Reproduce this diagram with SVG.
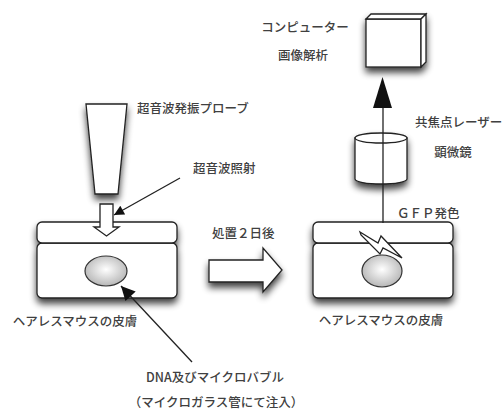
<svg xmlns="http://www.w3.org/2000/svg" width="504" height="410" viewBox="0 0 504 410">
  <defs>
    <filter id="shadow" x="-30%" y="-30%" width="160%" height="180%">
      <feGaussianBlur in="SourceAlpha" stdDeviation="3.5"/>
      <feOffset dx="0" dy="5" result="blur"/>
      <feComponentTransfer><feFuncA type="linear" slope="0.75"/></feComponentTransfer>
      <feMerge><feMergeNode/><feMergeNode in="SourceGraphic"/></feMerge>
    </filter>
    <radialGradient id="cell" cx="50%" cy="45%" r="60%">
      <stop offset="0" stop-color="#ffffff"/>
      <stop offset="1" stop-color="#b0b0b0"/>
    </radialGradient>
    <marker id="head" viewBox="0 0 10 10" refX="10" refY="5" markerWidth="11" markerHeight="10" markerUnits="userSpaceOnUse" orient="auto">
      <path d="M0,0 L10,5 L0,10 z" fill="#111"/>
    </marker>
    <marker id="headBig" viewBox="0 0 10 10" refX="10" refY="5" markerWidth="16" markerHeight="14" markerUnits="userSpaceOnUse" orient="auto">
      <path d="M0,0 L10,5 L0,10 z" fill="#111"/>
    </marker>
  </defs>
  <style>
    text { font-family: "Noto Sans CJK JP", "Noto Sans", sans-serif; font-size: 12.5px; font-weight: 500; fill: #404040; }
    .shape { fill: #fff; stroke: #222; stroke-width: 1.3; }
    .cell { fill: url(#cell); stroke: #333; stroke-width: 1.2; }
    .line { fill: none; stroke: #222; stroke-width: 1.3; }
    .mid { text-anchor: middle; }
  </style>

  <!-- skin before treatment -->
  <g id="skin-left">
    <g filter="url(#shadow)">
      <rect class="shape" x="37" y="243" width="140" height="55" rx="5"/>
      <rect class="shape" x="37" y="222" width="140" height="21" rx="5"/>
    </g>
    <ellipse class="cell" cx="106" cy="271" rx="21" ry="15"/>
    <text class="mid" x="75" y="326">ヘアレスマウスの皮膚</text>
  </g>

  <!-- ultrasound probe -->
  <g id="probe">
    <polygon class="shape" filter="url(#shadow)" points="86,104 127,104 118,194 95,194"/>
    <text x="137" y="112.5">超音波発振プローブ</text>
  </g>

  <!-- ultrasound beam -->
  <g id="beam">
    <polygon class="shape" points="100,204 113,204 113,227 119,227 106.5,236 94,227 100,227"/>
    <text x="193" y="172.5">超音波照射</text>
  </g>

  <!-- treatment arrow -->
  <g id="after-2-days">
    <polygon class="shape" filter="url(#shadow)" points="209,260 263,260 263,248 282,270 263,292 263,282 209,282"/>
    <text x="212" y="237.5">処置２日後</text>
  </g>

  <!-- skin after treatment -->
  <g id="skin-right">
    <g filter="url(#shadow)">
      <rect class="shape" x="313" y="243" width="140" height="55" rx="5"/>
      <rect class="shape" x="313" y="222" width="140" height="21" rx="5"/>
    </g>
    <ellipse class="cell" cx="382" cy="271" rx="20" ry="16"/>
    <polygon class="shape" stroke-width="1.1" points="360,232 378,243 381,236 402,258 383,248 380,254 361,235"/>
    <text class="mid" x="381" y="325">ヘアレスマウスの皮膚</text>
    <text x="397" y="217.5">ＧＦＰ発色</text>
  </g>

  <!-- confocal laser microscope -->
  <g id="microscope">
    <g filter="url(#shadow)">
      <path class="shape" d="M355,138 L355,179 A26,5 0 0 0 407,179 L407,138 Z"/>
      <ellipse class="shape" cx="381" cy="138" rx="26" ry="5"/>
    </g>
    <text x="415" y="126.5">共焦点レーザー</text>
    <text class="mid" x="453" y="156.5">顕微鏡</text>
  </g>

  <!-- computer -->
  <g id="computer">
    <g filter="url(#shadow)">
      <rect class="shape" x="366" y="19" width="55" height="48"/>
      <polygon class="shape" points="366,19 371,14 426,14 421,19"/>
      <polygon class="shape" points="421,19 426,14 426,62 421,67"/>
    </g>
    <text class="mid" x="305" y="31.5">コンピューター</text>
    <text class="mid" x="303" y="59.5">画像解析</text>
  </g>

  <!-- injection label -->
  <g id="injection">
    <text class="mid" x="215" y="381.5">DNA及びマイクロバブル</text>
    <text class="mid" x="216" y="406.5">（マイクロガラス管にて注入）</text>
  </g>

  <!-- connectors -->
  <g id="connectors">
    <line class="line" x1="180" y1="178" x2="114" y2="215" marker-end="url(#head)"/>
    <line class="line" x1="192" y1="362" x2="121" y2="286" marker-end="url(#headBig)"/>
    <line class="line" x1="383" y1="223" x2="383" y2="100"/>
    <polygon points="373,108 392,108 382.5,77" fill="#111"/>
  </g>
</svg>
